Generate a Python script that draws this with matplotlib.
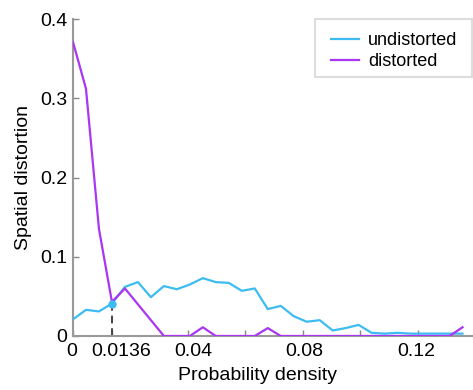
import numpy as np
import matplotlib
matplotlib.use("Agg")
import matplotlib.pyplot as plt
from matplotlib.patches import Rectangle
from matplotlib.transforms import ScaledTranslation, blended_transform_factory

plt.rcParams['font.family'] = ['Liberation Sans', 'DejaVu Sans']

# data
n_points = 31
x_max = 0.1355
undistorted = [0.021, 0.033, 0.031, 0.041, 0.062, 0.068, 0.049, 0.063, 0.059, 0.065,
               0.073, 0.068, 0.067, 0.057, 0.060, 0.034, 0.038, 0.025, 0.018, 0.020,
               0.007, 0.010, 0.014, 0.004, 0.003, 0.004, 0.003, 0.003, 0.003, 0.003,
               0.003]
distorted = [0.371, 0.312, 0.135, 0.043, 0.060, 0.040, 0.020, 0.0, 0.0, 0.0,
             0.011, 0.0, 0.0, 0.0, 0.0, 0.010, 0.0, 0.0, 0.0, 0.0,
             0.0, 0.0, 0.0, 0.0, 0.0, 0.0, 0.0, 0.0, 0.0, 0.0,
             0.011]
x = np.linspace(0, x_max, n_points)
cross_x = 0.0136
cross_y = 0.041
xtick_vals = [0, 0.0136, 0.04, 0.06, 0.08, 0.10, 0.12]
xlabel_vals = [0, 0.0136, 0.04, 0.08, 0.12]
xlabel_texts = ['0', '0.0136', '0.04', '0.08', '0.12']
xlabel_shift_px = [-1, 9, 5, 1.5, -1.5]
ytick_vals = [0, 0.1, 0.2, 0.3, 0.4]
ytick_labels = ['0', '0.1', '0.2', '0.3', '0.4']

blue = '#3dbcf2'
purple = '#a936f2'
W, H = 473, 390

fig = plt.figure(figsize=(W / 100, H / 100), dpi=100)
ax = fig.add_axes([73 / W, (H - 336) / H, (472 - 73) / W, (336 - 19) / H])

l1, = ax.plot(x, undistorted, color=blue, lw=1.6, label='undistorted', zorder=3)
l2, = ax.plot(x, distorted, color=purple, lw=1.6, label='distorted', zorder=3)
ax.plot([cross_x, cross_x], [0, cross_y], color='#444444', lw=1.4, ls=(0, (4, 2.5)), zorder=2)
ax.plot([cross_x], [cross_y], 'o', color=blue, ms=5, zorder=4)

ax.set_xlim(0, 0.1388)
ax.set_ylim(0, 0.4)
ax.set_xticks(xtick_vals)
ax.set_xticklabels([''] * len(xtick_vals))
ax.set_yticks(ytick_vals)
ax.set_yticklabels(ytick_labels)
ax.tick_params(direction='in', length=4, width=1, color='#888888', labelsize=14, pad=4)
for s in ['top', 'right']:
    ax.spines[s].set_visible(False)
for s in ['left', 'bottom']:
    ax.spines[s].set_color('#999999')
    ax.spines[s].set_linewidth(1.5)

base = blended_transform_factory(ax.transData, ax.transAxes)
for v, t, dx in zip(xlabel_vals, xlabel_texts, xlabel_shift_px):
    tr = base + ScaledTranslation(dx / 100, -7 / 100, fig.dpi_scale_trans)
    ax.text(v, 0, t, transform=tr, ha='center', va='top', fontsize=14)

ax.set_xlabel('Probability density', fontsize=14)
ax.xaxis.set_label_coords((257 - 73) / (472 - 73), -(376 - 336) / (336 - 19))
ax.xaxis.label.set_va('center')
ax.set_ylabel('Spatial distortion', fontsize=14, labelpad=6)

# legend frame
frame = Rectangle((315 / W, 1 - 77 / H), (472 - 315) / W, (77 - 19) / H,
                  transform=fig.transFigure, facecolor='white',
                  edgecolor='#dddddd', lw=1.5, zorder=5, clip_on=False)
ax.add_artist(frame)
leg = ax.legend(loc='upper left', bbox_to_anchor=(331 / W, 1 - 32 / H), bbox_transform=fig.transFigure,
                fontsize=13, frameon=False, handlelength=1.55, handletextpad=0.5,
                borderpad=0, borderaxespad=0, labelspacing=0.22)
leg.set_zorder(6)

fig.savefig('out.png', dpi=100)
